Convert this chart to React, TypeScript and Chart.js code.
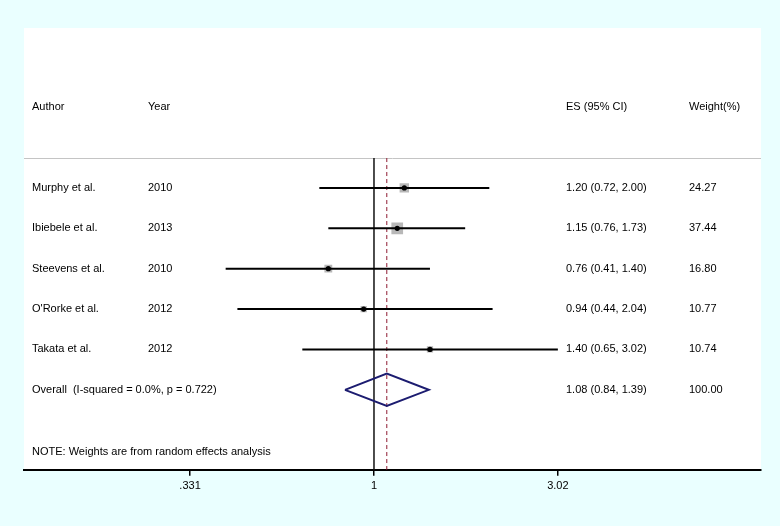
import React, { useEffect, useRef } from "react";
import { Chart, registerables } from "chart.js";

Chart.register(...registerables);

const authors = ["Murphy et al.", "Ibiebele et al.", "Steevens et al.", "O'Rorke et al.", "Takata et al."];
const years = ["2010", "2013", "2010", "2012", "2012"];
const es = [1.2, 1.15, 0.76, 0.94, 1.4];
const lo = [0.72, 0.76, 0.41, 0.44, 0.65];
const hi = [2.0, 1.73, 1.4, 2.04, 3.02];
const weights = [24.27, 37.44, 16.8, 10.77, 10.74];

const overallLabel = "Overall  (I-squared = 0.0%, p = 0.722)";
const overallES = 1.08;
const overallLo = 0.84;
const overallHi = 1.39;
const overallWeight = "100.00";

const headers = ["Author", "Year", "ES (95% CI)", "Weight(%)"];
const note = "NOTE: Weights are from random effects analysis";

const tickValues = [0.331, 1, 3.02];
const tickLabels = [".331", "1", "3.02"];

const FONT = "'Liberation Sans', Arial, Helvetica, sans-serif";

export default function App() {
  const ref = useRef<HTMLCanvasElement | null>(null);

  useEffect(() => {
    if (!ref.current) return;
    const overallRow = authors.length;
    const rows = authors.map((_, i) => i);

    const ciSets = rows.map((i) => ({
      type: "line" as const,
      data: [
        { x: lo[i], y: i },
        { x: hi[i], y: i },
      ],
      borderColor: "#000",
      borderWidth: 2,
      pointRadius: 0,
      fill: false,
      order: 2,
    }));

    const diamondH = 0.4;
    const datasets: any[] = [
      {
        type: "scatter",
        data: rows.map((i) => ({ x: es[i], y: i })),
        pointStyle: "circle",
        pointRadius: 2.6,
        backgroundColor: "#000",
        borderColor: "#000",
        borderWidth: 0,
        order: 1,
      },
      ...ciSets,
      {
        type: "scatter",
        data: rows.map((i) => ({ x: es[i], y: i })),
        pointStyle: "rect",
        pointRadius: (ctx: any) => 1.35 * Math.sqrt(weights[ctx.dataIndex] || 0),
        backgroundColor: "#b8b8b8",
        borderColor: "#b8b8b8",
        borderWidth: 0,
        order: 3,
      },
      {
        type: "line",
        data: [
          { x: overallLo, y: overallRow },
          { x: overallES, y: overallRow - diamondH },
          { x: overallHi, y: overallRow },
          { x: overallES, y: overallRow + diamondH },
          { x: overallLo, y: overallRow },
        ],
        borderColor: "#1c1c70",
        borderWidth: 2,
        pointRadius: 0,
        fill: false,
        tension: 0,
        order: 0,
      },
    ];

    const decor = {
      id: "forestDecor",
      beforeDraw(chart: any) {
        const { ctx, chartArea } = chart;
        ctx.save();
        ctx.fillStyle = "#ffffff";
        ctx.fillRect(chartArea.left, chartArea.top, chartArea.right - chartArea.left, chartArea.bottom - chartArea.top);
        ctx.restore();
      },
      beforeDatasetsDraw(chart: any) {
        const { ctx, chartArea, scales } = chart;
        const x = scales.x;
        const y = scales.y;
        const lineY = y.getPixelForValue(-0.74);
        ctx.save();
        ctx.strokeStyle = "#c4c4c4";
        ctx.lineWidth = 1;
        ctx.beginPath();
        ctx.moveTo(chartArea.left, Math.round(lineY) + 0.5);
        ctx.lineTo(chartArea.right, Math.round(lineY) + 0.5);
        ctx.stroke();
        const x1 = x.getPixelForValue(1);
        ctx.strokeStyle = "#111";
        ctx.lineWidth = 1.5;
        ctx.beginPath();
        ctx.moveTo(x1, lineY);
        ctx.lineTo(x1, chartArea.bottom);
        ctx.stroke();
        const xo = x.getPixelForValue(overallES);
        ctx.strokeStyle = "#8e1b32";
        ctx.lineWidth = 1;
        ctx.setLineDash([4, 3]);
        ctx.beginPath();
        ctx.moveTo(xo, lineY);
        ctx.lineTo(xo, chartArea.bottom);
        ctx.stroke();
        ctx.restore();
      },
      afterDraw(chart: any) {
        const { ctx, chartArea, scales } = chart;
        const y = scales.y;
        const L = chartArea.left;
        const colAuthor = L + 8;
        const colYear = L + 124;
        const colES = L + 542;
        const colW = L + 665;
        ctx.save();
        ctx.font = `11px ${FONT}`;
        ctx.fillStyle = "#000";
        ctx.textBaseline = "middle";
        ctx.textAlign = "left";
        const hy = y.getPixelForValue(-2);
        ctx.fillText(headers[0], colAuthor, hy);
        ctx.fillText(headers[1], colYear, hy);
        ctx.fillText(headers[2], colES, hy);
        ctx.fillText(headers[3], colW, hy);
        rows.forEach((i) => {
          const py = y.getPixelForValue(i);
          ctx.fillText(authors[i], colAuthor, py);
          ctx.fillText(years[i], colYear, py);
          ctx.fillText(`${es[i].toFixed(2)} (${lo[i].toFixed(2)}, ${hi[i].toFixed(2)})`, colES, py);
          ctx.fillText(weights[i].toFixed(2), colW, py);
        });
        const oy = y.getPixelForValue(overallRow);
        ctx.fillText(overallLabel, colAuthor, oy);
        ctx.fillText(`${overallES.toFixed(2)} (${overallLo.toFixed(2)}, ${overallHi.toFixed(2)})`, colES, oy);
        ctx.fillText(overallWeight, colW, oy);
        ctx.fillText(note, colAuthor, y.getPixelForValue(6.53));
        ctx.restore();
      },
    };

    const chart = new Chart(ref.current, {
      type: "scatter",
      data: { datasets },
      plugins: [decor],
      options: {
        animation: false,
        responsive: false,
        devicePixelRatio: 1,
        layout: { padding: { left: 24, right: 19, top: 28, bottom: 29 } },
        plugins: { legend: { display: false }, tooltip: { enabled: false } },
        scales: {
          x: {
            type: "logarithmic",
            min: 0.122,
            max: 10.24,
            bounds: "data",
            afterBuildTicks: (scale: any) => {
              scale.ticks = tickValues.map((v) => ({ value: v }));
            },
            grid: {
              display: true,
              drawOnChartArea: false,
              drawTicks: true,
              tickLength: 6,
              color: "#000",
              lineWidth: 1.5,
            },
            border: { display: true, color: "#000", width: 2 },
            ticks: {
              autoSkip: false,
              maxRotation: 0,
              padding: 4,
              color: "#000",
              font: { size: 11, family: FONT },
              callback: (_v: any, i: number) => tickLabels[i],
            },
          },
          y: {
            type: "linear",
            display: false,
            reverse: true,
            min: -3.96,
            max: 6.98,
          },
        },
      },
    });
    return () => chart.destroy();
  }, []);

  return (
    <div
      style={{
        position: "fixed",
        left: 0,
        top: 0,
        width: 780,
        height: 526,
        background: "#eaffff",
      }}
    >
      <canvas ref={ref} width={780} height={526} style={{ width: 780, height: 526, display: "block" }} />
    </div>
  );
}
